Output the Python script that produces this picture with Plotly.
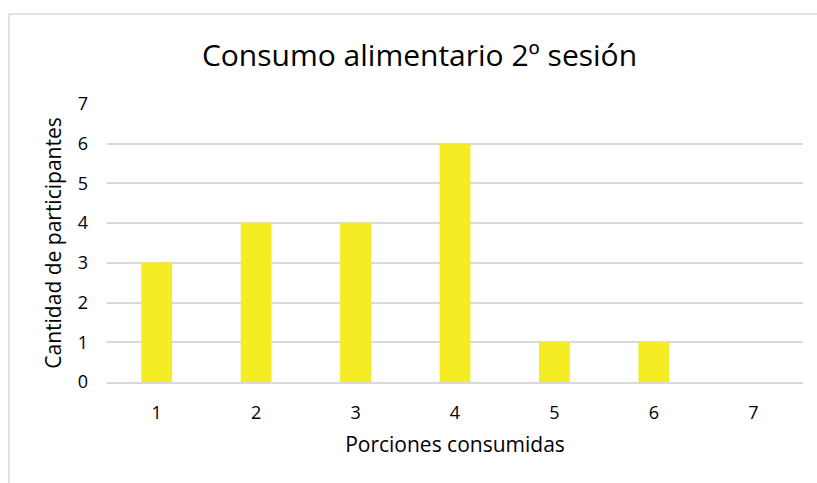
import plotly.graph_objects as go

porciones = ["1", "2", "3", "4", "5", "6", "7"]
participantes = [3, 4, 4, 6, 1, 1, 0]
y_ticks = [0, 1, 2, 3, 4, 5, 6, 7]

BAR_COLOR = "#F5EC24"
GRID_COLOR = "#D9D9D9"
TEXT_COLOR = "#000000"
FONT = "Open Sans"

fig = go.Figure(
    go.Bar(
        x=porciones,
        y=participantes,
        marker=dict(color=BAR_COLOR, line=dict(width=0)),
        hoverinfo="x+y",
    )
)

L, R, T, B = 107, 14, 104, 101
W, H = 817, 483
pw, ph = W - L - R, H - T - B

fig.update_layout(
    width=W,
    height=H,
    margin=dict(l=L, r=R, t=T, b=B),
    paper_bgcolor="white",
    plot_bgcolor="white",
    bargap=0.69,
    showlegend=False,
    font=dict(family=FONT, color=TEXT_COLOR),
    title=dict(
        text="Consumo alimentario 2º sesión",
        x=419.5 / W,
        xanchor="center",
        y=1 - 55 / H,
        yanchor="middle",
        font=dict(family=FONT, size=30, color=TEXT_COLOR),
    ),
    xaxis=dict(
        type="category",
        showgrid=False,
        showline=True,
        linecolor=GRID_COLOR,
        linewidth=1.5,
        ticks="",
        ticklabelstandoff=14,
        tickfont=dict(size=18),
        title=dict(text="Porciones consumidas", font=dict(size=21), standoff=14),
    ),
    yaxis=dict(
        range=[0, 7],
        tickvals=y_ticks,
        showgrid=True,
        gridcolor=GRID_COLOR,
        gridwidth=1.5,
        zeroline=False,
        showline=False,
        ticks="",
        ticklabelstandoff=18,
        tickfont=dict(size=18),
        title=dict(text="Cantidad de participantes", font=dict(size=21), standoff=10),
    ),
)

# outer chart frame
fig.add_shape(
    type="rect",
    xref="paper",
    yref="paper",
    x0=(9 - L) / pw,
    x1=(W + 20 - L) / pw,
    y0=-(B + 20) / ph,
    y1=1 + (T - 14) / ph,
    line=dict(color=GRID_COLOR, width=1.5),
    fillcolor="rgba(0,0,0,0)",
    layer="below",
)

fig.write_html("out.html")
